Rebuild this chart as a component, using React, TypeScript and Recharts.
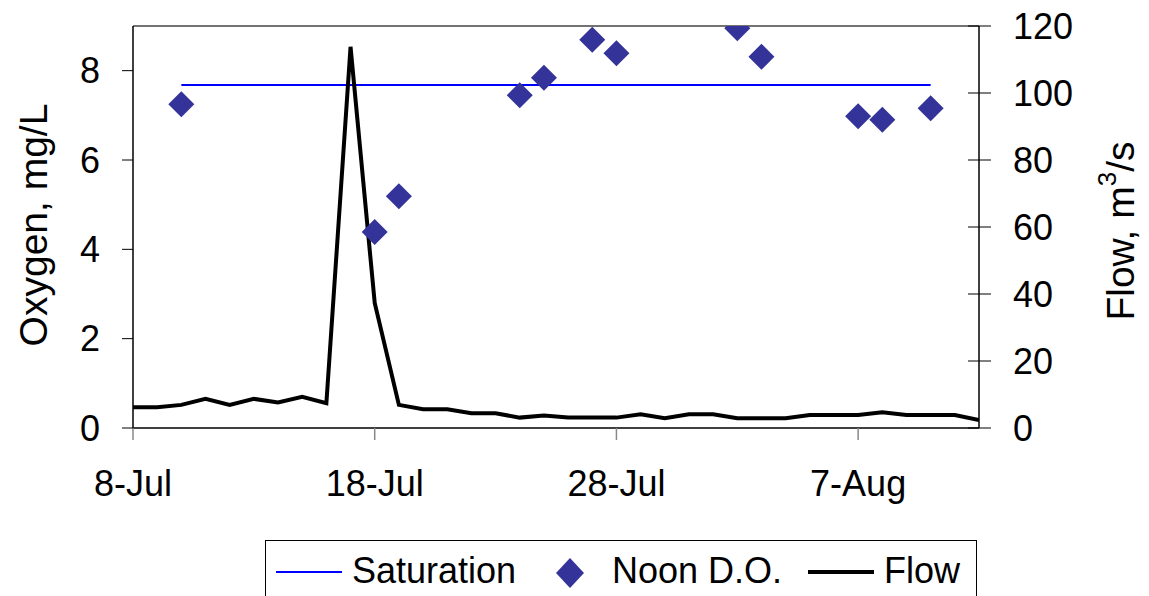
import {
  ComposedChart,
  Legend,
  Line,
  ReferenceLine,
  Scatter,
  XAxis,
  YAxis,
} from "recharts";

// days since 8-Jul
const flowDays = [
  0, 1, 2, 3, 4, 5, 6, 7, 8, 9, 10, 11, 12, 13, 14, 15, 16, 17, 18, 19, 20,
  21, 22, 23, 24, 25, 26, 27, 28, 29, 30, 31, 32, 33, 34, 35,
];
const flowValues = [
  6.2, 6.2, 6.9, 8.7, 6.9, 8.7, 7.6, 9.3, 7.4, 113.8, 37.3, 6.9, 5.6, 5.6, 4.4,
  4.4, 3.1, 3.7, 3.1, 3.1, 3.1, 4.1, 2.9, 4.1, 4.1, 2.9, 2.9, 2.9, 3.9, 3.9,
  3.9, 4.7, 3.9, 3.9, 3.9, 2.4,
];

const doDays = [2, 10, 11, 16, 17, 19, 20, 25, 26, 30, 31, 33];
const doValues = [7.25, 4.39, 5.19, 7.45, 7.84, 8.69, 8.39, 8.95, 8.31, 6.98, 6.9, 7.16];

const satDays = [2, 33];
const satValues = [7.68, 7.68];

const xTicks = [0, 10, 20, 30];
const xTickLabels = ["8-Jul", "18-Jul", "28-Jul", "7-Aug"];
const leftTicks = [0, 2, 4, 6, 8];
const rightTicks = [0, 20, 40, 60, 80, 100, 120];

const flowData = flowDays.map((d, i) => ({ day: d, flow: flowValues[i] }));
const doData = doDays.map((d, i) => ({ day: d, oxygen: doValues[i] }));
const satData = satDays.map((d, i) => ({ day: d, sat: satValues[i] }));

const FONT = "'Liberation Sans', Arial, sans-serif";
const FS = 36;
const LABEL_FS = 39;

const Diamond = (props: any) => {
  const { cx, cy } = props;
  const r = 13;
  return (
    <polygon
      points={`${cx},${cy - r} ${cx + r},${cy} ${cx},${cy + r} ${cx - r},${cy}`}
      fill="#333399"
    />
  );
};

const RightTick = (props: any) => {
  const { x, y, payload } = props;
  const axisX = x - 34;
  return (
    <g>
      <line x1={axisX - 11} x2={axisX + 12} y1={y} y2={y} stroke="#000" strokeWidth={1} />
      <text x={x} y={y} dy="0.36em" textAnchor="start" fill="#000" fontSize={FS} fontFamily={FONT}>
        {payload.value}
      </text>
    </g>
  );
};

const LegendBox = () => (
  <div
    style={{
      position: "relative",
      width: 712,
      height: 60,
      border: "1.5px solid #000",
      boxSizing: "border-box",
      fontFamily: FONT,
      fontSize: FS,
      color: "#000",
      background: "#fff",
    }}
  >
    <div style={{ position: "absolute", left: 10, top: 30, width: 66, height: 2, background: "#0000ff" }} />
    <span style={{ position: "absolute", left: 86, top: 10, lineHeight: "40px" }}>Saturation</span>
    <svg style={{ position: "absolute", left: 290, top: 17 }} width={28} height={30}>
      <polygon points="14,0 28,15 14,30 0,15" fill="#333399" />
    </svg>
    <span style={{ position: "absolute", left: 346, top: 10, lineHeight: "40px" }}>Noon D.O.</span>
    <div style={{ position: "absolute", left: 542, top: 29, width: 66, height: 4, background: "#000" }} />
    <span style={{ position: "absolute", left: 618, top: 10, lineHeight: "40px" }}>Flow</span>
  </div>
);

export default function App() {
  return (
    <div
      style={{
        position: "absolute",
        left: 0,
        top: 0,
        width: 1149,
        height: 596,
        overflow: "hidden",
        background: "#fff",
      }}
    >
      <ComposedChart
        width={1149}
        height={600}
        margin={{ top: 26, right: 0, bottom: 0, left: 0 }}
      >
        <XAxis
          dataKey="day"
          type="number"
          domain={[0, 35]}
          ticks={xTicks}
          tickFormatter={(v) => xTickLabels[xTicks.indexOf(v)]}
          height={112}
          allowDataOverflow
          axisLine={{ stroke: "#000", strokeWidth: 1.5 }}
          tickLine={{ stroke: "#888", strokeWidth: 1.5 }}
          tickSize={12}
          tickMargin={30}
          tick={{ fill: "#000", fontSize: FS, fontFamily: FONT }}
        />
        <YAxis
          yAxisId="left"
          domain={[0, 9]}
          ticks={leftTicks}
          width={133}
          allowDataOverflow
          axisLine={{ stroke: "#000", strokeWidth: 1.5 }}
          tickLine={{ stroke: "#000" }}
          tickSize={11}
          tickMargin={22}
          tick={{ fill: "#000", fontSize: FS, fontFamily: FONT }}
          label={() => (
            <text
              x={33}
              y={225}
              transform="rotate(-90 33 225)"
              textAnchor="middle"
              dominantBaseline="central"
              fontSize={LABEL_FS}
              fontFamily={FONT}
              fill="#000"
            >
              Oxygen, mg/L
            </text>
          )}
        />
        <YAxis
          yAxisId="right"
          orientation="right"
          domain={[0, 120]}
          ticks={rightTicks}
          width={170}
          allowDataOverflow
          axisLine={{ stroke: "#000", strokeWidth: 1.5 }}
          tickLine={false}
          tickSize={12}
          tickMargin={22}
          tick={<RightTick />}
          label={() => (
            <text
              x={1120}
              y={231}
              transform="rotate(-90 1120 231)"
              textAnchor="middle"
              dominantBaseline="central"
              fontSize={LABEL_FS}
              fontFamily={FONT}
              fill="#000"
            >
              Flow, m
              <tspan dy={-13} fontSize={26}>3</tspan>
              <tspan dy={13}>/s</tspan>
            </text>
          )}
        />
        <ReferenceLine yAxisId="left" y={9} stroke="#444" strokeWidth={1.5} />
        <Line
          yAxisId="left"
          data={satData}
          dataKey="sat"
          stroke="#0000ff"
          strokeWidth={2}
          dot={false}
          isAnimationActive={false}
          name="Saturation"
        />
        <Line
          yAxisId="right"
          data={flowData}
          dataKey="flow"
          stroke="#000"
          strokeWidth={4}
          dot={false}
          type="linear"
          isAnimationActive={false}
          name="Flow"
        />
        <Scatter
          yAxisId="left"
          data={doData}
          dataKey="oxygen"
          shape={<Diamond />}
          isAnimationActive={false}
          name="Noon D.O."
        />
        <Legend
          verticalAlign="bottom"
          content={<LegendBox />}
          wrapperStyle={{ left: 265, width: 712, bottom: 0 }}
        />
      </ComposedChart>
    </div>
  );
}
